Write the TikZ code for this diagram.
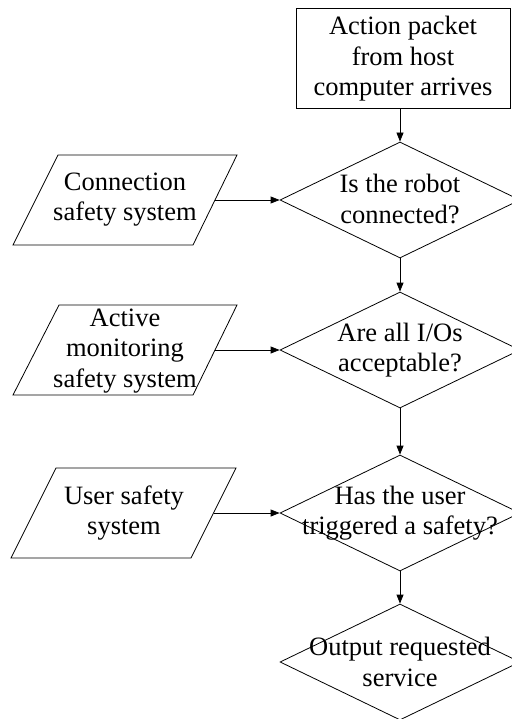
\documentclass[tikz,border=0pt]{standalone}
\usepackage{fontspec}
\setmainfont{Liberation Serif}
\usetikzlibrary{arrows.meta,shapes.geometric}
\begin{document}
\begin{tikzpicture}[x=1pt,y=-1pt,line width=0.8pt,
  lbl/.style={font=\fontsize{26.5}{30.5}\selectfont, align=center, inner sep=0pt},
  dia/.style={draw, diamond, minimum width=240pt, minimum height=116pt, inner sep=0pt},
  proc/.style={draw, rectangle, minimum width=214pt, minimum height=100pt, inner sep=0pt},
  arr/.style={-{Triangle[length=9pt,width=7pt]}}]
\useasboundingbox (0,0) rectangle (511,719);
% process box
\node[proc] (box) at (403,58) {};
\node[lbl] (tbox) at (403,59) {Action packet\\from host\\computer arrives};
% diamonds
\node[dia] (d1) at (400,200) {};
\node[lbl] (td1) at (400,199) {Is the robot\\connected?};
\node[dia] (d2) at (400,350) {};
\node[lbl] (td2) at (400,350) {Are all I/Os\\acceptable?};
\node[dia] (d3) at (400,513) {};
\node[lbl] (td3) at (400,513) {Has the user\\triggered a safety?};
\node[dia] (d4) at (400,662) {};
\node[lbl] (td4) at (400,662) {Output requested\\service};
% parallelograms
\draw (58,155) -- (237,155) -- (193,245) -- (13,245) -- cycle;
\coordinate (p1r) at (215,200);
\node[lbl] (tp1) at (125,199.5) {Connection\\safety system};
\draw (59,305) -- (237,305) -- (193,395) -- (13,395) -- cycle;
\coordinate (p2r) at (215,350);
\node[lbl] (tp2) at (125,351) {Active\\monitoring\\safety system};
\draw (56,468) -- (236,468) -- (191,558) -- (11,558) -- cycle;
\coordinate (p3r) at (213.5,513);
\node[lbl] (tp3) at (124,513) {User safety\\system};
% connectors
\draw[arr] (box.south -| d1.north) -- (d1.north);
\draw[arr] (d1.south) -- (d2.north);
\draw[arr] (d2.south) -- (d3.north);
\draw[arr] (d3.south) -- (d4.north);
\draw[arr] (p1r) -- (d1.west);
\draw[arr] (p2r) -- (d2.west);
\draw[arr] (p3r) -- (d3.west);
\end{tikzpicture}
\end{document}
